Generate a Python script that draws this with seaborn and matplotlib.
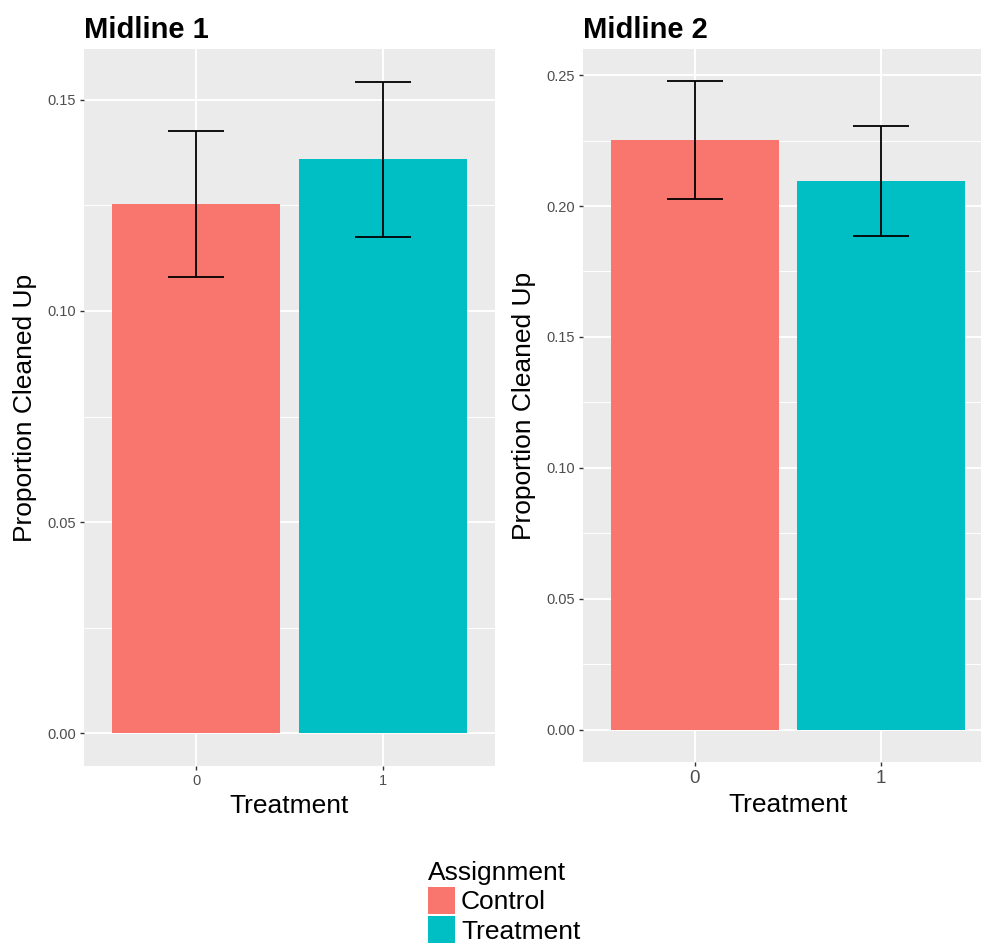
import matplotlib
matplotlib.use("Agg")
import matplotlib.pyplot as plt
from matplotlib.patches import Patch
from matplotlib.ticker import MultipleLocator
import numpy as np
import pandas as pd
import seaborn as sns

# Proportion cleaned up by treatment arm, with confidence bounds
treatment = ["0", "1"]
assignment = ["Control", "Treatment"]
colors = ["#F8766D", "#00BFC4"]

mid1_prop = [0.1254, 0.1360]
mid1_low = [0.1081, 0.1175]
mid1_high = [0.1427, 0.1543]

mid2_prop = [0.2252, 0.2095]
mid2_low = [0.2026, 0.1887]
mid2_high = [0.2476, 0.2305]

y1_ticks = [0.00, 0.05, 0.10, 0.15]
y2_ticks = [0.00, 0.05, 0.10, 0.15, 0.20, 0.25]

sns.set_theme(style="white")
plt.rcParams["font.family"] = ["Liberation Sans", "DejaVu Sans"]
plt.rcParams["text.color"] = "black"
plt.rcParams["axes.labelcolor"] = "black"

W, H = 981, 943
fig = plt.figure(figsize=(W / 100, H / 100), dpi=100)


def px_axes(left, top, right, bottom):
    return fig.add_axes([left / W, 1 - bottom / H, (right - left) / W, (bottom - top) / H])


def panel(ax, title, prop, low, high, yticks, xtick_size):
    df = pd.DataFrame({"Treatment": treatment, "Proportion": prop, "Assignment": assignment})
    sns.barplot(data=df, x="Treatment", y="Proportion", hue="Assignment",
                palette=colors, dodge=False, width=0.9, saturation=1,
                errorbar=None, legend=False, ax=ax, zorder=2,
                edgecolor="none", linewidth=0)
    xs = np.arange(len(treatment))
    ax.vlines(xs, low, high, color="black", lw=1.3, zorder=3)
    ax.hlines(low, xs - 0.15, xs + 0.15, color="black", lw=1.3, zorder=3)
    ax.hlines(high, xs - 0.15, xs + 0.15, color="black", lw=1.3, zorder=3)

    top = max(high)
    ax.set_ylim(-0.05 * top, 1.05 * top)
    ax.set_xlim(-0.6, 1.6)
    ax.set_yticks(yticks)
    ax.set_yticklabels([f"{t:.2f}" for t in yticks])
    ax.yaxis.set_minor_locator(MultipleLocator(0.025))

    ax.set_facecolor("#EBEBEB")
    ax.set_axisbelow(True)
    ax.grid(which="major", color="white", lw=1.4, zorder=0)
    ax.grid(which="minor", axis="y", color="white", lw=0.7, zorder=0)
    for s in ax.spines.values():
        s.set_visible(False)

    ax.tick_params(axis="both", which="major", length=3, width=1.0, color="#333333",
                   labelcolor="#4D4D4D", pad=3, bottom=True, left=True)
    ax.tick_params(axis="y", labelsize=10.5)
    ax.tick_params(axis="x", labelsize=xtick_size)
    ax.tick_params(which="minor", length=0)

    ax.set_xlabel("Treatment", fontsize=19, color="black", labelpad=4)
    ax.set_ylabel("Proportion Cleaned Up", fontsize=19, color="black", labelpad=7)
    ax.set_title(title, loc="left", fontsize=21, fontweight="bold", pad=8, color="black")


ax1 = px_axes(84, 49, 495, 766)
panel(ax1, "Midline 1", mid1_prop, mid1_low, mid1_high, y1_ticks, 10.5)

# The second panel runs past the right edge of the figure
ax2 = px_axes(583, 49, 993, 762)
panel(ax2, "Midline 2", mid2_prop, mid2_low, mid2_high, y2_ticks, 13.5)

handles = [Patch(facecolor=c, edgecolor="none") for c in colors]
fig.legend(handles, assignment, title="Assignment", loc="upper left",
           bbox_to_anchor=(428 / W, 1 - 861 / H), frameon=False,
           fontsize=19, title_fontsize=19, handlelength=1.03, handleheight=1.24,
           handletextpad=0.22, labelspacing=0.06, borderpad=0, borderaxespad=0,
           alignment="left")

fig.savefig("out.png", dpi=100)
